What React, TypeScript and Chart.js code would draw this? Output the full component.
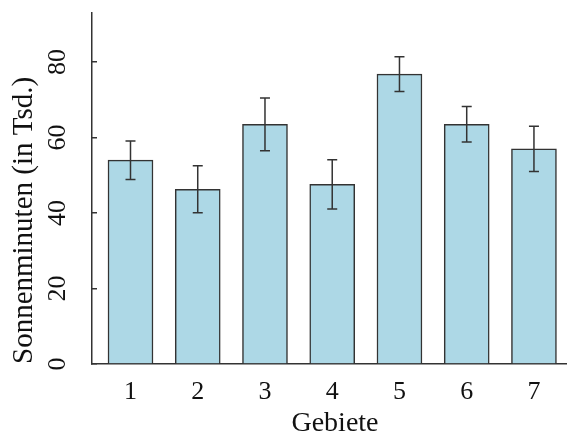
import React, { useEffect, useRef } from "react";
import { Chart, registerables } from "chart.js";

Chart.register(...registerables);

const categories = [1, 2, 3, 4, 5, 6, 7];
const means = [54.0, 46.3, 63.5, 47.6, 76.8, 63.5, 57.0];
const errors = [5.1, 6.2, 7.0, 6.5, 4.6, 4.7, 6.0];
const yTicks = [0, 20, 40, 60, 80];
const xTitle = "Gebiete";
const yTitle = "Sonnenminuten (in Tsd.)";

const FONT = "'Liberation Serif', 'DejaVu Serif', serif";
const INK = "#111";
const LINE = "#333";

const errorBarPlugin = {
  id: "errorBars",
  afterDatasetsDraw(chart: any) {
    const { ctx, scales } = chart;
    const x = scales.x;
    const y = scales.y;
    ctx.save();
    ctx.strokeStyle = LINE;
    ctx.lineWidth = 1.5;
    categories.forEach((c, i) => {
      const px = x.getPixelForValue(c);
      const top = y.getPixelForValue(means[i] + errors[i]);
      const bot = y.getPixelForValue(means[i] - errors[i]);
      ctx.beginPath();
      ctx.moveTo(px, top);
      ctx.lineTo(px, bot);
      ctx.moveTo(px - 5, top);
      ctx.lineTo(px + 5, top);
      ctx.moveTo(px - 5, bot);
      ctx.lineTo(px + 5, bot);
      ctx.stroke();
    });
    ctx.restore();
  },
};

export default function App() {
  const ref = useRef<HTMLCanvasElement | null>(null);

  useEffect(() => {
    if (!ref.current) return;
    const chart = new Chart(ref.current, {
      type: "bar",
      data: {
        datasets: [
          {
            data: categories.map((c, i) => ({ x: c, y: means[i] })),
            backgroundColor: "#ADD8E6",
            borderColor: LINE,
            borderWidth: 1.5,
            barThickness: 45,
          },
        ],
      },
      plugins: [errorBarPlugin],
      options: {
        animation: false,
        responsive: false,
        maintainAspectRatio: false,
        layout: { padding: { top: 13, left: 0, right: 0, bottom: 0 } },
        plugins: {
          legend: { display: false },
          tooltip: { enabled: false },
        },
        scales: {
          x: {
            type: "linear",
            offset: false,
            min: 0.4275,
            max: 7.655,
            afterBuildTicks: (s: any) => {
              s.ticks = categories.map((v) => ({ value: v }));
            },
            afterFit: (s: any) => {
              s.height = 72;
              s.paddingLeft = 0;
              s.paddingRight = 0;
            },
            grid: { display: false, drawTicks: false, offset: false },
            border: { display: true, color: LINE, width: 1.5 },
            ticks: {
              font: { family: FONT, size: 26 },
              color: INK,
              padding: 13,
              maxRotation: 0,
              autoSkip: false,
            },
            title: {
              display: true,
              text: xTitle,
              color: INK,
              font: { family: FONT, size: 28, lineHeight: 1 },
              padding: { top: 0, bottom: -2 },
            },
          },
          y: {
            min: 0,
            max: 93,
            afterBuildTicks: (s: any) => {
              s.ticks = yTicks.map((v) => ({ value: v }));
            },
            afterFit: (s: any) => {
              s.width = 92;
              s.paddingTop = 0;
              s.paddingBottom = 0;
            },
            grid: {
              display: true,
              drawOnChartArea: false,
              drawTicks: true,
              tickLength: -5,
              color: LINE,
              lineWidth: 1.5,
            },
            border: { display: true, color: LINE, width: 1.5 },
            ticks: {
              font: { family: FONT, size: 26 },
              color: INK,
              minRotation: 90,
              maxRotation: 90,
              crossAlign: "center",
              padding: 26,
              autoSkip: false,
            },
            title: {
              display: true,
              text: yTitle,
              align: "start",
              color: INK,
              font: { family: FONT, size: 29, lineHeight: 1 },
              padding: { top: 10, bottom: 0 },
            },
          },
        },
      },
    } as any);
    return () => chart.destroy();
  }, []);

  return (
    <div
      style={{
        position: "absolute",
        left: 0,
        top: 0,
        width: 567,
        height: 436,
        overflow: "hidden",
        background: "#fff",
      }}
    >
      <canvas ref={ref} width={578} height={436} style={{ display: "block" }} />
    </div>
  );
}
